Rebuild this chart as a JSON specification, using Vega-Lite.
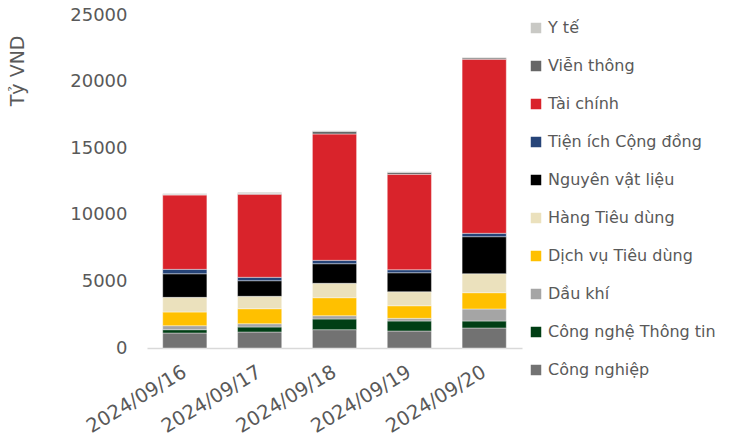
{
  "$schema": "https://vega.github.io/schema/vega-lite/v6.json",
  "width": 375,
  "height": 333,
  "autosize": {"type": "none"},
  "padding": {"left": 147, "top": 15, "right": 225, "bottom": 96},
  "background": "white",
  "config": {
    "font": "DejaVu Sans",
    "view": {"stroke": null}
  },
  "data": {
    "values": [
      {"d": "2024/09/16", "s": "Công nghiệp", "k": 1, "v": 1126},
      {"d": "2024/09/16", "s": "Công nghệ Thông tin", "k": 2, "v": 248},
      {"d": "2024/09/16", "s": "Dầu khí", "k": 3, "v": 300},
      {"d": "2024/09/16", "s": "Dịch vụ Tiêu dùng", "k": 4, "v": 1028},
      {"d": "2024/09/16", "s": "Hàng Tiêu dùng", "k": 5, "v": 1100},
      {"d": "2024/09/16", "s": "Nguyên vật liệu", "k": 6, "v": 1772},
      {"d": "2024/09/16", "s": "Tiện ích Cộng đồng", "k": 7, "v": 330},
      {"d": "2024/09/16", "s": "Tài chính", "k": 8, "v": 5578},
      {"d": "2024/09/16", "s": "Viễn thông", "k": 9, "v": 50},
      {"d": "2024/09/16", "s": "Y tế", "k": 10, "v": 60},
      {"d": "2024/09/17", "s": "Công nghiệp", "k": 1, "v": 1201},
      {"d": "2024/09/17", "s": "Công nghệ Thông tin", "k": 2, "v": 375},
      {"d": "2024/09/17", "s": "Dầu khí", "k": 3, "v": 248},
      {"d": "2024/09/17", "s": "Dịch vụ Tiêu dùng", "k": 4, "v": 1126},
      {"d": "2024/09/17", "s": "Hàng Tiêu dùng", "k": 5, "v": 931},
      {"d": "2024/09/17", "s": "Nguyên vật liệu", "k": 6, "v": 1171},
      {"d": "2024/09/17", "s": "Tiện ích Cộng đồng", "k": 7, "v": 255},
      {"d": "2024/09/17", "s": "Tài chính", "k": 8, "v": 6231},
      {"d": "2024/09/17", "s": "Viễn thông", "k": 9, "v": 60},
      {"d": "2024/09/17", "s": "Y tế", "k": 10, "v": 100},
      {"d": "2024/09/18", "s": "Công nghiệp", "k": 1, "v": 1374},
      {"d": "2024/09/18", "s": "Công nghệ Thông tin", "k": 2, "v": 803},
      {"d": "2024/09/18", "s": "Dầu khí", "k": 3, "v": 248},
      {"d": "2024/09/18", "s": "Dịch vụ Tiêu dùng", "k": 4, "v": 1351},
      {"d": "2024/09/18", "s": "Hàng Tiêu dùng", "k": 5, "v": 1081},
      {"d": "2024/09/18", "s": "Nguyên vật liệu", "k": 6, "v": 1471},
      {"d": "2024/09/18", "s": "Tiện ích Cộng đồng", "k": 7, "v": 255},
      {"d": "2024/09/18", "s": "Tài chính", "k": 8, "v": 9482},
      {"d": "2024/09/18", "s": "Viễn thông", "k": 9, "v": 200},
      {"d": "2024/09/18", "s": "Y tế", "k": 10, "v": 50},
      {"d": "2024/09/19", "s": "Công nghiệp", "k": 1, "v": 1276},
      {"d": "2024/09/19", "s": "Công nghệ Thông tin", "k": 2, "v": 751},
      {"d": "2024/09/19", "s": "Dầu khí", "k": 3, "v": 200},
      {"d": "2024/09/19", "s": "Dịch vụ Tiêu dùng", "k": 4, "v": 946},
      {"d": "2024/09/19", "s": "Hàng Tiêu dùng", "k": 5, "v": 1051},
      {"d": "2024/09/19", "s": "Nguyên vật liệu", "k": 6, "v": 1426},
      {"d": "2024/09/19", "s": "Tiện ích Cộng đồng", "k": 7, "v": 225},
      {"d": "2024/09/19", "s": "Tài chính", "k": 8, "v": 7162},
      {"d": "2024/09/19", "s": "Viễn thông", "k": 9, "v": 150},
      {"d": "2024/09/19", "s": "Y tế", "k": 10, "v": 40},
      {"d": "2024/09/20", "s": "Công nghiệp", "k": 1, "v": 1502},
      {"d": "2024/09/20", "s": "Công nghệ Thông tin", "k": 2, "v": 525},
      {"d": "2024/09/20", "s": "Dầu khí", "k": 3, "v": 901},
      {"d": "2024/09/20", "s": "Dịch vụ Tiêu dùng", "k": 4, "v": 1224},
      {"d": "2024/09/20", "s": "Hàng Tiêu dùng", "k": 5, "v": 1426},
      {"d": "2024/09/20", "s": "Nguyên vật liệu", "k": 6, "v": 2778},
      {"d": "2024/09/20", "s": "Tiện ích Cộng đồng", "k": 7, "v": 255},
      {"d": "2024/09/20", "s": "Tài chính", "k": 8, "v": 13063},
      {"d": "2024/09/20", "s": "Viễn thông", "k": 9, "v": 100},
      {"d": "2024/09/20", "s": "Y tế", "k": 10, "v": 50}
    ]
  },
  "mark": {"type": "bar", "stroke": "white", "strokeWidth": 0.4},
  "encoding": {
    "x": {
      "field": "d",
      "type": "nominal",
      "scale": {"paddingInner": 0.41, "paddingOuter": 0.21},
      "axis": {
        "title": null,
        "labelAngle": -31,
        "labelAlign": "right",
        "labelBaseline": "middle",
        "labelFontSize": 19.5,
        "labelColor": "#595959",
        "labelPadding": 22,
        "ticks": false,
        "domainColor": "#d9d9d9",
        "domainWidth": 1.5
      }
    },
    "y": {
      "field": "v",
      "type": "quantitative",
      "stack": "zero",
      "scale": {"domain": [0, 25000]},
      "axis": {
        "title": "Tỷ VND",
        "titleFontSize": 19,
        "titleFontWeight": "normal",
        "titleColor": "#595959",
        "titleAnchor": "end",
        "titleX": -120,
        "titleY": 20,
        "values": [0, 5000, 10000, 15000, 20000, 25000],
        "format": "d",
        "labelFontSize": 18,
        "labelColor": "#595959",
        "labelPadding": 20,
        "ticks": false,
        "domain": false,
        "grid": false
      }
    },
    "color": {
      "field": "s",
      "type": "nominal",
      "scale": {
        "domain": ["Y tế", "Viễn thông", "Tài chính", "Tiện ích Cộng đồng", "Nguyên vật liệu", "Hàng Tiêu dùng", "Dịch vụ Tiêu dùng", "Dầu khí", "Công nghệ Thông tin", "Công nghiệp"],
        "range": ["#c9c9c5", "#666666", "#d9232b", "#264478", "#000000", "#ebe1bd", "#ffc000", "#a5a5a5", "#003e14", "#727272"]
      },
      "legend": {
        "title": null,
        "orient": "none",
        "legendX": 381,
        "legendY": 5,
        "symbolType": "square",
        "symbolSize": 110,
        "symbolStrokeWidth": 0,
        "labelFontSize": 16,
        "labelColor": "#595959",
        "labelOffset": 4,
        "labelLimit": 220,
        "rowPadding": 22
      }
    },
    "order": {"field": "k", "type": "quantitative"}
  }
}
